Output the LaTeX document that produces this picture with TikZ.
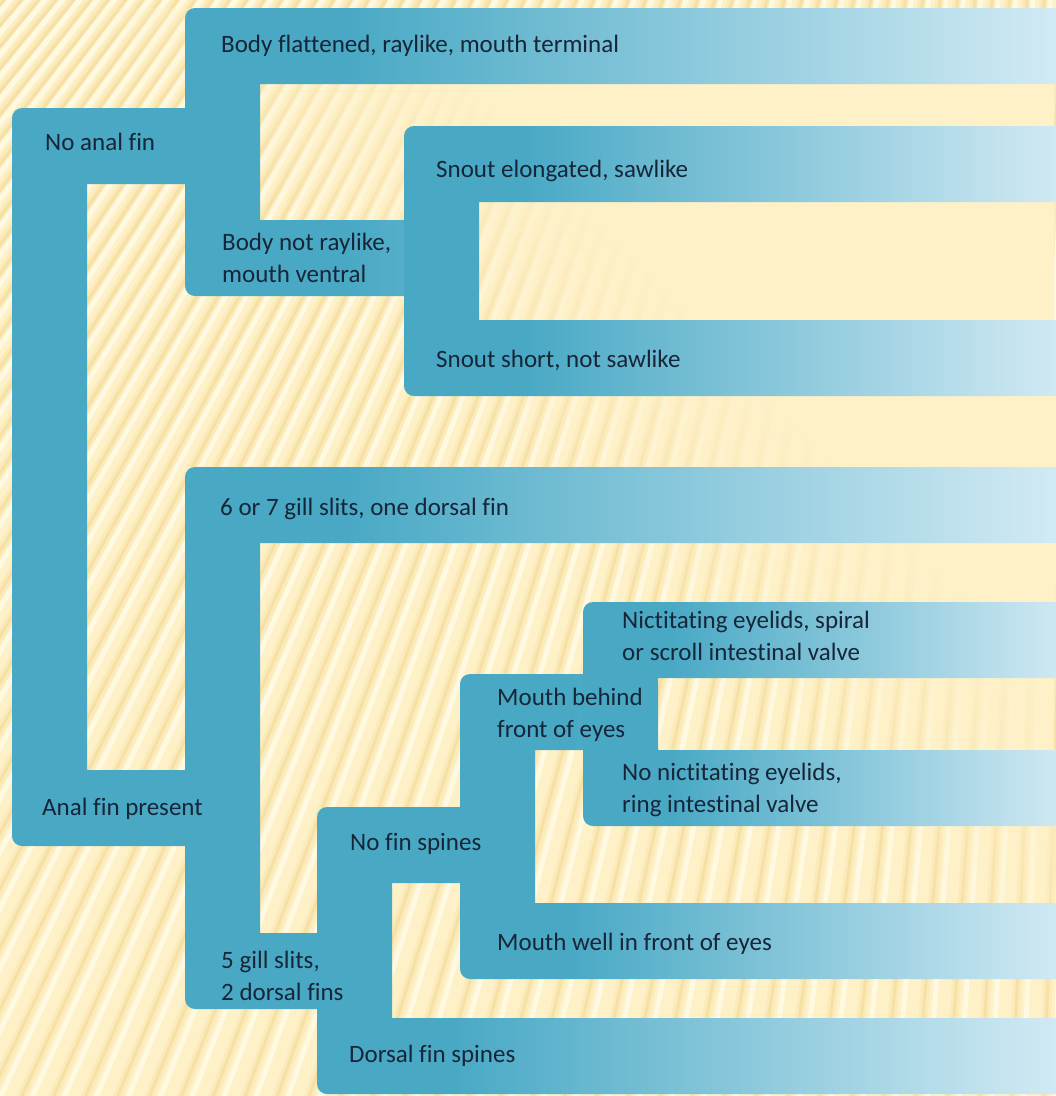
\documentclass[tikz,border=0pt]{standalone}
\usepackage{fontspec}
\setmainfont{Carlito}[Ligatures=NoCommon]
\usetikzlibrary{fadings}
\definecolor{cream}{RGB}{254,240,199}
\definecolor{bteal}{RGB}{73,169,197}
\definecolor{blight}{RGB}{214,236,245}
\definecolor{txtc}{RGB}{22,38,56}
\definecolor{stripelight}{RGB}{255,249,225}
\definecolor{stripesoft}{RGB}{251,234,186}
\definecolor{stripedark}{RGB}{246,224,164}
\pgfdeclarehorizontalshading{barshade}{100bp}{color(0bp)=(bteal); color(34bp)=(bteal); color(75bp)=(blight); color(100bp)=(blight)}
\pgfdeclarehorizontalshading{creamfadeshade}{100bp}{color(0bp)=(black); color(52bp)=(black); color(63bp)=(white); color(100bp)=(white)}
\pgfdeclarefading{creamfade}{\pgfuseshading{creamfadeshade}}
\newcommand{\bracketC}[6]{%
  \path[#6, rounded corners=10pt]
    (#1,#2) rectangle (#4,#2+76)
    (#1,#2) rectangle (#1+75,#3+76)
    (#1,#3) rectangle (#5,#3+76);}
\tikzset{
  lbl/.style={anchor=base west, text=txtc, font=\fontsize{25}{32}\selectfont, align=left, inner sep=0pt},
  barfill/.style={shading=barshade},
}
\begin{document}
\begin{tikzpicture}[x=1pt,y=-1pt]
\useasboundingbox (0,0) rectangle (1056,1096);
\clip (0,0) rectangle (1056,1096);
\fill[cream] (0,0) rectangle (1056,1096);
% background stripes (a fan of lines)
\coordinate (F) at (1120,-1300);
\foreach \xb in {-1100,-1068,...,1140} {
  \draw[stripesoft, line width=9pt] (F) -- (\xb,1100);
  \draw[stripedark, line width=3pt] (F) -- (\xb,1100);
  \draw[stripelight, line width=5pt] (F) -- (\xb+11,1100);
}
% fade the stripes out towards the upper right
\fill[cream, path fading=creamfade, fading angle=45] (0,0) rectangle (1056,1096);
% brackets
\bracketC{12}{108}{770}{215}{215}{fill=bteal}
\bracketC{185}{8}{220}{1080}{434}{barfill}
\bracketC{404}{126}{320}{1080}{1080}{barfill}
\bracketC{185}{467}{933}{1080}{347}{barfill}
\bracketC{317}{807}{1018}{490}{1080}{barfill}
\bracketC{460}{674}{903}{613}{1080}{barfill}
\bracketC{583}{602}{750}{1080}{1080}{barfill}
% labels
\node[lbl] (flat) at (221,52) {Body flattened, raylike, mouth terminal};
\node[lbl] (noanal) at (45,150) {No anal fin};
\node[lbl] (snoutlong) at (436,177) {Snout elongated, sawlike};
\node[lbl] (notray) at (222,282) {Body not raylike,\\mouth ventral};
\node[lbl] (snoutshort) at (436,367) {Snout short, not sawlike};
\node[lbl] (gill67) at (220,515) {6 or 7 gill slits, one dorsal fin};
\node[lbl] (nict) at (622,660) {Nictitating eyelids, spiral\\or scroll intestinal valve};
\node[lbl] (mbehind) at (497,737) {Mouth behind\\front of eyes};
\node[lbl] (nonict) at (622,812) {No nictitating eyelids,\\ring intestinal valve};
\node[lbl] (analp) at (42,815) {Anal fin present};
\node[lbl] (nospine) at (350,850) {No fin spines};
\node[lbl] (mwell) at (497,950) {Mouth well in front of eyes};
\node[lbl] (gill5) at (221,1000) {5 gill slits,\\2 dorsal fins};
\node[lbl] (dspine) at (349,1062) {Dorsal fin spines};
\end{tikzpicture}
\end{document}
